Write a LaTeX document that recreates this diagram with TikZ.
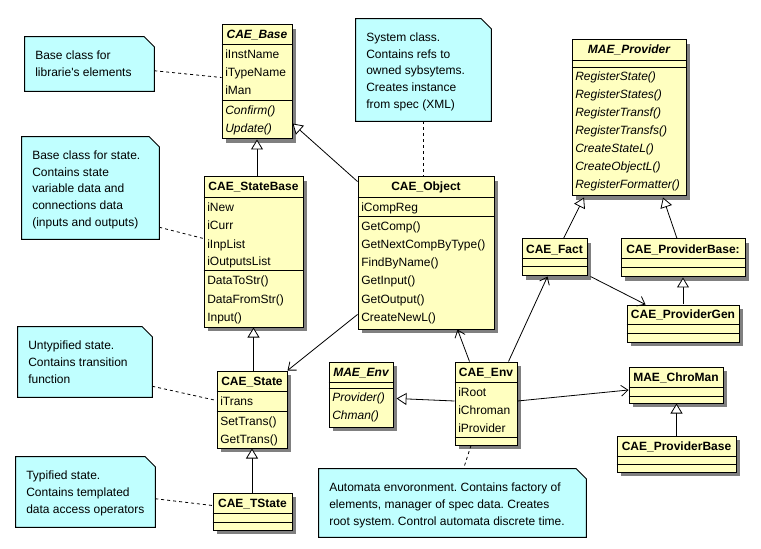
\documentclass[tikz,border=0pt]{standalone}
\usepackage{fontspec}
\setmainfont{Liberation Sans}
\frenchspacing
\usetikzlibrary{fit,calc,arrows.meta}
\definecolor{clsfill}{RGB}{255,255,192}
\definecolor{notefill}{RGB}{192,255,255}
\definecolor{shadowc}{RGB}{128,128,128}
\tikzset{
  txt/.style={inner sep=0pt, font=\fontsize{9pt}{11pt}\selectfont},
  itl/.style={inner sep=0pt, font=\fontsize{9pt}{11pt}\selectfont\itshape},
  ttl/.style={inner sep=0pt, font=\fontsize{9pt}{11pt}\selectfont\bfseries},
  bit/.style={inner sep=0pt, font=\fontsize{9pt}{11pt}\selectfont\bfseries\itshape},
  cbox/.style={draw=black, line width=0.75pt},
  notec/.style={draw=black, fill=notefill, line width=0.75pt},
  gen/.style={line width=0.6pt, -{Triangle[fill=white,length=7.5pt,width=9pt]}},
  assoc/.style={line width=0.6pt, -{Straight Barb[length=5pt,width=8pt]}},
  notelink/.style={line width=0.6pt, dash pattern=on 2.25pt off 2.25pt},
}
% name, x1, y1, x2, y2, title style, title
\newcommand\umlclass[7]{%
  \fill[shadowc] (#2+4,#3+4) rectangle (#4+4,#5+4);
  \node[fit={(#2,#3) (#4,#5)}, inner sep=0pt, cbox, fill=clsfill] (#1) {};
  \node[#6, anchor=base] (#1-t) at ({(#2+#4)/2},#3+14) {#7};
}
\newcommand\umlsep[2]{\draw[cbox] (#1.west |- 0,#2) -- (#1.east |- 0,#2);}
% prefix, x, first baseline, style, list
\newcommand\umlrows[5]{%
  \foreach \t [count=\i] in {#5}
    \node[#4, anchor=base west] (#1-\i) at (#2, #3+18*\i-18) {\t};
}
% name, x1, y1, x2, y2, lines
\newcommand\umlnote[6]{%
  \node[fit={(#2,#3) (#4,#5)}, inner sep=0pt] (#1) {};
  \filldraw[notec] (#1.south west) -- (#1.north west) -- ($(#1.north east)+(-10,0)$)
     -- ($(#1.north east)+(0,10)$) -- (#1.south east) -- cycle;
  \foreach \t [count=\i] in {#6}
    \node[txt, anchor=base west] (#1-\i) at (#2+10, #3+22.5+16.75*\i-16.75) {\t};
}
\begin{document}
\begin{tikzpicture}[x=0.75pt,y=-0.75pt]
\useasboundingbox[fill=white] (0,0) rectangle (761,549);

% ---- classes ----
\umlclass{base}{222}{25}{292}{139}{bit}{CAE\_Base}
\umlsep{base}{45}\umlsep{base}{101}
\umlrows{base-a}{225}{59}{txt}{iInstName,iTypeName,iMan}
\umlrows{base-m}{225}{115}{itl}{Confirm(),Update()}

\umlclass{sb}{204}{177}{303}{327}{ttl}{CAE\_StateBase}
\umlsep{sb}{198}\umlsep{sb}{271}
\umlrows{sb-a}{207}{212}{txt}{iNew,iCurr,iInpList,iOutputsList}
\umlrows{sb-m}{207}{285}{txt}{DataToStr(),DataFromStr(),Input()}

\umlclass{obj}{358}{177}{494}{329}{ttl}{CAE\_Object}
\umlsep{obj}{198}\umlsep{obj}{217}
\umlrows{obj-a}{361}{212}{txt}{iCompReg}
\umlrows{obj-m}{361}{231}{txt}{GetComp(),GetNextCompByType(),FindByName(),GetInput(),GetOutput(),CreateNewL()}

\umlclass{state}{217}{371}{287}{448}{ttl}{CAE\_State}
\umlsep{state}{391}\umlsep{state}{411}
\umlrows{state-a}{220}{405}{txt}{iTrans}
\umlrows{state-m}{220}{425}{txt}{SetTrans(),GetTrans()}

\umlclass{tstate}{213}{493}{292}{530}{ttl}{CAE\_TState}
\umlsep{tstate}{513}\umlsep{tstate}{522}

\umlclass{mprov}{572}{40}{686}{196}{bit}{MAE\_Provider}
\umlsep{mprov}{61}\umlsep{mprov}{68}
\umlrows{mprov-m}{575}{81}{itl}{RegisterState(),RegisterStates(),RegisterTransf(),RegisterTransfs(),CreateStateL(),CreateObjectL(),RegisterFormatter()}

\umlclass{fact}{522}{239}{587}{276}{ttl}{CAE\_Fact}
\umlsep{fact}{259}\umlsep{fact}{267}

\umlclass{pb1}{621}{239}{745}{277}{ttl}{CAE\_ProviderBase:}
\umlsep{pb1}{259}\umlsep{pb1}{268}

\umlclass{pgen}{627}{305}{739}{342}{ttl}{CAE\_ProviderGen}
\umlsep{pgen}{324}\umlsep{pgen}{333}

\umlclass{chro}{629}{367}{723}{403}{ttl}{MAE\_ChroMan}
\umlsep{chro}{387}\umlsep{chro}{396}

\umlclass{pb2}{617}{436}{736}{472}{ttl}{CAE\_ProviderBase}
\umlsep{pb2}{456}\umlsep{pb2}{464}

\umlclass{menv}{329}{362}{393}{427}{bit}{MAE\_Env}
\umlsep{menv}{382}\umlsep{menv}{388}
\umlrows{menv-m}{332}{401}{itl}{Provider(),Chman()}

\umlclass{env}{455}{362}{517}{445}{ttl}{CAE\_Env}
\umlsep{env}{382}\umlsep{env}{437}
\umlrows{env-a}{458}{396}{txt}{iRoot,iChroman,iProvider}

% ---- notes ----
\umlnote{n1}{25}{37}{154}{91}{Base class for,librarie\textquotesingle s elements}
\umlnote{n2}{22}{137}{159}{239}{Base class for state.,Contains state,variable data and,connections data,{(inputs and outputs)}}
\umlnote{n3}{18}{327}{152}{397}{Untypified state.,Contains transition,function}
\umlnote{n4}{16}{457}{155}{527}{Typified state.,Contains templated,data access operators}
\umlnote{n5}{356}{19}{491}{121}{System class.,Contains refs to,owned sybsytems.,Creates instance,from spec (XML)}
\umlnote{n6}{319}{469}{586}{537}{Automata envoronment. Contains factory of,{elements, manager of spec data. Creates},root system. Control automata discrete time.}

% ---- note links ----
\draw[notelink] ($(n1.north east)+(0,34)$) -- ($(base.north west)+(0,53)$);
\draw[notelink] ($(n2.south east)+(0,-12)$) -- ($(sb.north west)+(0,62)$);
\draw[notelink] ($(n3.south east)+(0,-11)$) -- ($(state.north west)+(0,30)$);
\draw[notelink] ($(n4.north east)+(0,42)$) -- ($(tstate.north west)+(0,13)$);
\draw[notelink] (n5.south) -- (n5.south |- obj.north);
\draw[notelink] ($(env.south)+(-15,0)$) -- ($(n6.north)+(11,0)$);

% ---- generalizations ----
\draw[gen] (sb.north -| base.south) -- (base.south);
\draw[gen] (state.north -| sb.south) -- (sb.south);
\draw[gen] (tstate.north -| state.south) -- (state.south);
\draw[gen] ($(obj.north west)+(0,5)$) -- ($(base.south east)+(0,-16)$);
\draw[gen] ($(env.west)+(0,-2.5)$) -- ($(menv.east)+(3,4)$);
\draw[gen] ($(fact.north)+(9,0)$) -- ($(mprov.south)+(-45,1)$);
\draw[gen] ($(pb1.north)+(-6,0)$) -- ($(mprov.south)+(34,1)$);
\draw[gen] (pgen.north) -- (pgen.north |- pb1.south);
\draw[gen] (pb2.north) -- (pb2.north |- chro.south);

% ---- associations ----
\draw[assoc] ($(obj.south west)+(0,-15)$) -- (state.north east);
\draw[assoc] ($(env.north west)+(15,0)$) -- ($(obj.south east)+(-37,0)$);
\draw[assoc] ($(env.north east)+(-9,0)$) -- ($(fact.south)+(-7,0)$);
\draw[assoc] ($(env.east)+(0,-2.5)$) -- ($(chro.west)+(0,5)$);
\draw[assoc] ($(fact.south east)+(3,0)$) -- ($(pgen.north west)+(19,0)$);
\end{tikzpicture}
\end{document}
